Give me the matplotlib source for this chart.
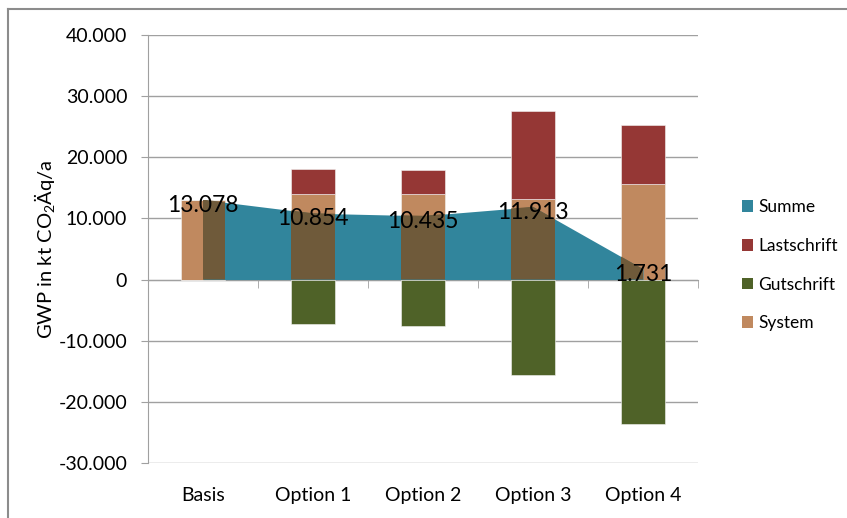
import numpy as np
import matplotlib.pyplot as plt
from matplotlib.patches import Patch
from matplotlib.lines import Line2D

plt.rcParams['font.family'] = ['Lato', 'DejaVu Sans']
plt.rcParams['mathtext.fontset'] = 'custom'
plt.rcParams['mathtext.rm'] = 'Lato'
plt.rcParams['mathtext.it'] = 'Lato'

# data (kt CO2-eq per year, German thousands separator in labels)
categories = ["Basis", "Option 1", "Option 2", "Option 3", "Option 4"]
system = [13078, 14000, 14000, 13100, 15700]
lastschrift = [0, 4100, 3970, 14500, 9650]
gutschrift = [0, -7250, -7535, -15687, -23619]
summe = [13078, 10854, 10435, 11913, 1731]

teal = "#31859C"
red = "#953735"
green = "#4F6228"
tan = "#C0895F"
dark = "#6F5A3A"
grid_c = "#A0A0A0"


def de_fmt(v):
    return f"{v:,.0f}".replace(",", ".")


fig = plt.figure(figsize=(8.47, 5.18), dpi=100)
ax = fig.add_axes([148 / 847, 1 - 463 / 518, 550 / 847, 428 / 518])

x = np.arange(len(categories))
w = 0.4

ax.bar(x, system, w, color=tan, edgecolor="#f4f4f4", lw=0.4, zorder=2)
ax.bar(x, lastschrift, w, bottom=system, color=red, edgecolor="#f4f4f4", lw=0.4, zorder=2)
ax.bar(x, gutschrift, w, color=green, edgecolor="#f4f4f4", lw=0.4, zorder=2)

# area for the sum, the part over the bars gets darkened
area = ax.fill_between(x, 0, summe, color=teal, lw=0, zorder=3)
clip = area.get_paths()[0]
over = ax.bar(x, system, w, color=dark, lw=0, zorder=4)
for b in over:
    b.set_clip_path(clip, ax.transData)

for xi, v in zip(x, summe):
    ax.text(xi, v - 900, de_fmt(v), ha="center", va="center", fontsize=16.5, color="black", zorder=6)

ax.set_xlim(-0.5, 4.5)
ax.set_ylim(-30000, 40000)
ax.set_yticks(np.arange(-30000, 40001, 10000))
ax.set_yticklabels([de_fmt(v) for v in np.arange(-30000, 40001, 10000)], fontsize=14)
ax.yaxis.grid(True, color=grid_c, lw=1.0, zorder=0)
ax.set_axisbelow(True)

ax.spines["top"].set_visible(False)
ax.spines["right"].set_visible(False)
ax.spines["left"].set_color(grid_c)
ax.spines["bottom"].set_position(("data", 0))
ax.spines["bottom"].set_color(grid_c)
ax.spines["bottom"].set_zorder(1)
ax.tick_params(axis="y", direction="out", length=5, color=grid_c, pad=10)

ax.set_xticks([])
ax.set_xticks(np.arange(-0.5, 4.6, 1.0), minor=True)
ax.tick_params(axis="x", which="minor", direction="out", length=6, color=grid_c)
for xi, c in zip(x, categories):
    ax.text(xi, -0.075, c, transform=ax.get_xaxis_transform(), ha="center", va="center", fontsize=14)

ax.set_ylabel(r"GWP in kt CO$_2$Äq/a", fontsize=14.5)
ax.yaxis.set_label_coords(-0.165, 0.5)

handles = [Patch(facecolor=teal), Patch(facecolor=red), Patch(facecolor=green), Patch(facecolor=tan)]
fig.legend(handles, ["Summe", "Lastschrift", "Gutschrift", "System"], loc="center left",
           bbox_to_anchor=(0.857, 0.488), frameon=False, fontsize=12.5,
           handlelength=0.65, handleheight=0.65, handletextpad=0.3, labelspacing=1.3)

# chart border (top and left only visible)
fig.add_artist(Line2D([8 / 847, 8 / 847], [0, 1 - 9 / 518], color="#8c8c8c", lw=1.5))
fig.add_artist(Line2D([8 / 847, 1], [1 - 9 / 518, 1 - 9 / 518], color="#8c8c8c", lw=1.5))

fig.savefig("out.png", dpi=100)
